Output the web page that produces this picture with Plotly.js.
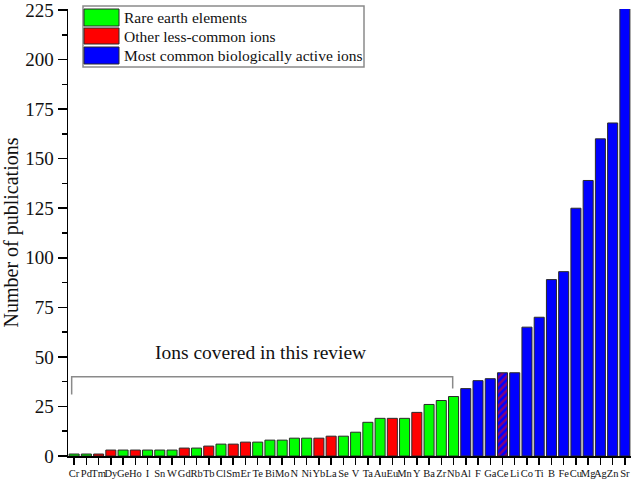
<!DOCTYPE html>
<html>
<head>
<meta charset="utf-8">
<script src="https://cdn.plot.ly/plotly-3.0.1.min.js"></script>
<style>html,body{margin:0;padding:0;background:#fff;}#chart{width:632px;height:481px;}</style>
</head>
<body>
<div id="chart"></div>
<script>
var categories = ['Cr','Pd','Tm','Dy','Ge','Ho','I','Sn','W','Gd','Rb','Tb','Cl','Sm','Er','Te','Bi','Mo','N','Ni','Yb','La','Se','V','Ta','Au','Eu','Mn','Y','Ba','Zr','Nb','Al','F','Ga','Ce','Li','Co','Ti','B','Fe','Cu','Mg','Ag','Zn','Sr'];
var publications = [1,1,1,3,3,3,3,3,3,4,4,5,6,6,7,7,8,8,9,9,9,10,10,12,17,19,19,19,22,26,28,30,34,38,39,42,42,65,70,89,93,125,139,160,168,226];
// G = rare earth elements, R = other less-common ions, B = most common biologically active ions
var groups = ['G','G','R','R','G','R','G','G','G','R','G','R','G','R','R','G','G','G','G','G','R','R','G','G','G','G','R','G','R','G','G','G','B','B','B','B','B','B','B','B','B','B','B','B','B','B'];
var hatched = ['Ce'];
var groupKeys = ['G','R','B'];
var groupNames = ['Rare earth elements','Other less-common ions','Most common biologically active ions'];
var groupColors = ['#00ff00','#ff0000','#0000ff'];
var yTickVals = [0,25,50,75,100,125,150,175,200,225];
var bracketLabel = 'Ions covered in this review';

var FONT = 'Times New Roman, Liberation Serif, serif';

var traces = groupKeys.map(function(k, gi){
  var xs = [], ys = [], pats = [];
  categories.forEach(function(c, i){
    if (groups[i] === k) { xs.push(c); ys.push(publications[i]); pats.push(hatched.indexOf(c) >= 0 ? '/' : ''); }
  });
  return {
    type: 'bar', x: xs, y: ys, name: groupNames[gi], showlegend: false,
    marker: {
      color: groupColors[gi],
      line: {color: '#2a2a2a', width: 1},
      pattern: {shape: pats, fgcolor: '#ff0000', bgcolor: groupColors[gi], size: 5, solidity: 0.5, fillmode: 'overlay'}
    },
    hoverinfo: 'x+y'
  };
});

// plot-area geometry in px to place legend shapes in paper units
var L = 68, R = 631, T = 9, B = 456;
function px(p){ return (p - L) / (R - L); }
function py(p){ return (B - p) / (B - T); }

var shapes = [
  // bracket "Ions covered in this review"
  {type: 'path', xref: 'x', yref: 'y',
   path: 'M -0.2,31 L -0.2,40 L 30.93,40 L 30.93,34',
   line: {color: '#8a8a8a', width: 1.5}},
  // legend box
  {type: 'rect', xref: 'paper', yref: 'paper', x0: px(83), x1: px(364), y0: py(67), y1: py(6),
   line: {color: '#8a8a8a', width: 1.5}, fillcolor: '#ffffff', layer: 'above'}
];
var annotations = [
  {xref: 'x', yref: 'y', x: 15.2, y: 52, text: bracketLabel, showarrow: false,
   font: {family: FONT, size: 19.5, color: '#111'}, xanchor: 'center', yanchor: 'middle'}
];
var rows = [[9,26],[28,44],[47,64]];
groupKeys.forEach(function(k, gi){
  shapes.push({type: 'rect', xref: 'paper', yref: 'paper', x0: px(84), x1: px(119),
    y0: py(rows[gi][1]), y1: py(rows[gi][0]), fillcolor: groupColors[gi],
    line: {color: '#2a2a2a', width: 1}, layer: 'above'});
  annotations.push({xref: 'paper', yref: 'paper', x: px(122), y: py((rows[gi][0] + rows[gi][1]) / 2),
    text: groupNames[gi], showarrow: false, xanchor: 'left', yanchor: 'middle',
    font: {family: FONT, size: 15.5, color: '#111'}});
});

var layout = {
  width: 632, height: 481,
  margin: {l: L, r: 632 - R, t: T, b: 481 - B},
  paper_bgcolor: '#ffffff', plot_bgcolor: '#ffffff',
  barmode: 'overlay', bargap: 0.18,
  showlegend: false,
  font: {family: FONT, color: '#111'},
  xaxis: {
    type: 'category', categoryorder: 'array', categoryarray: categories,
    range: [-0.5, categories.length - 0.5],
    tickmode: 'array', tickvals: categories, ticktext: categories,
    showgrid: false, zeroline: false,
    showline: true, linecolor: '#000', linewidth: 1.5,
    ticks: 'outside', ticklen: 7, tickwidth: 1.5, tickcolor: '#000',
    tickangle: 0, tickfont: {family: FONT, size: 10.5, color: '#111'},
    ticklabelstandoff: 0,
    automargin: false
  },
  yaxis: {
    range: [0, 225.5], tickvals: yTickVals,
    showgrid: false, zeroline: false,
    showline: true, linecolor: '#000', linewidth: 1.5,
    ticks: 'outside', ticklen: 9, tickwidth: 1.5, tickcolor: '#000',
    minor: {dtick: 12.5, tick0: 0, ticks: 'outside', ticklen: 5, tickwidth: 1.5, tickcolor: '#000', showgrid: false},
    tickfont: {family: FONT, size: 19, color: '#111'},
    ticklabeloverflow: 'allow',
    title: {text: 'Number of publications', font: {family: FONT, size: 20, color: '#111'}, standoff: 8},
    automargin: false
  },
  shapes: shapes,
  annotations: annotations
};

Plotly.newPlot('chart', traces, layout, {displayModeBar: false, staticPlot: true});
</script>
</body>
</html>
